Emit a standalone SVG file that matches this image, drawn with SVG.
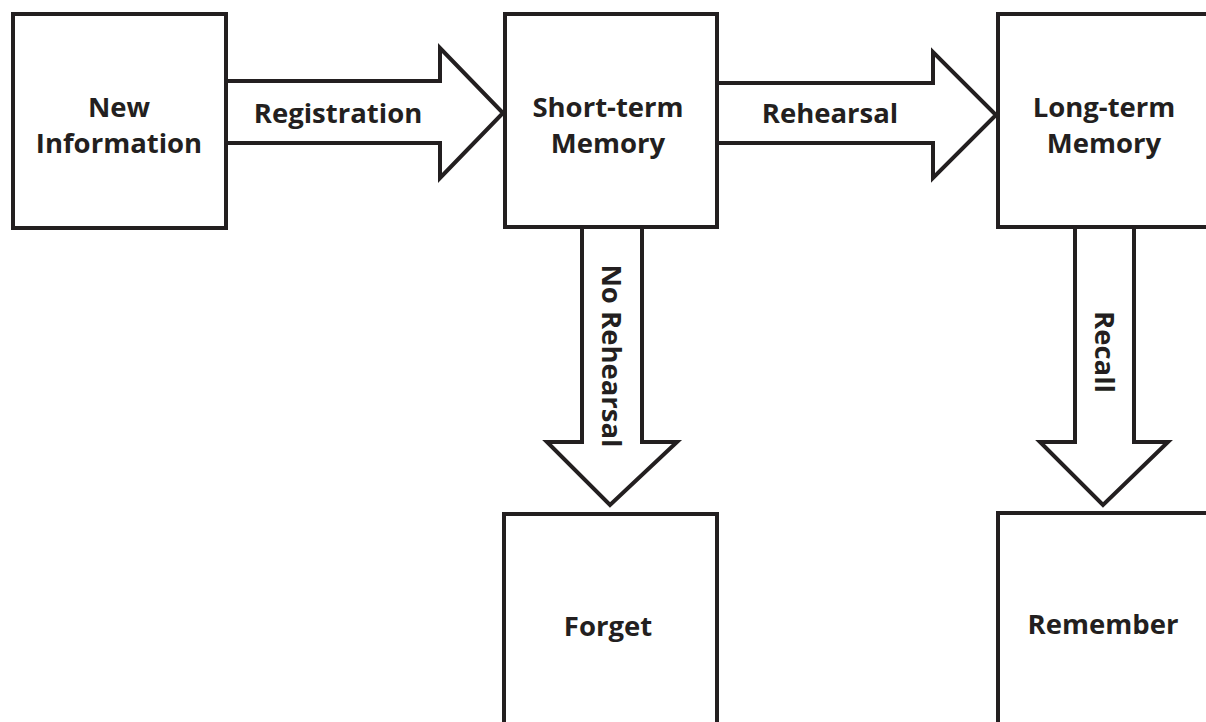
<svg xmlns="http://www.w3.org/2000/svg" width="1206" height="722" viewBox="0 0 1206 722">
<style>
.box{fill:#fff;stroke:#231f20;stroke-width:4}
.arr{fill:#fff;stroke:#231f20;stroke-width:4;stroke-linejoin:miter}
.lbl{font-family:"Open Sans","Liberation Sans",sans-serif;font-weight:bold;font-size:27.5px;fill:#231f20;text-anchor:middle}
</style>
<rect width="1206" height="722" fill="#fff"/>
<g id="connectors">
<g id="registration"><polyline class="arr" points="226,81 440,81 440,48 503,113 440,178 440,143 226,143"/><text class="lbl" x="338" y="123">Registration</text></g>
<g id="rehearsal"><polyline class="arr" points="717,83 933,83 933,52 996,115 933,178 933,143 717,143"/><text class="lbl" x="830" y="123">Rehearsal</text></g>
<g id="no-rehearsal"><polyline class="arr" points="582,227 582,442 547,442 610,505 677,442 642,442 642,227"/><text class="lbl" transform="translate(602,356) rotate(90)">No Rehearsal</text></g>
<g id="recall"><polyline class="arr" points="1075,227 1075,442 1040,442 1103,505 1168,442 1134,442 1134,227"/><text class="lbl" transform="translate(1095,352) rotate(90)">Recall</text></g>
</g>
<g id="new-information"><rect class="box" x="13" y="14" width="213" height="214"/><text class="lbl" x="119" y="117">New</text><text class="lbl" x="119" y="153">Information</text></g>
<g id="short-term"><rect class="box" x="505" y="14" width="212" height="213"/><text class="lbl" x="608" y="117">Short-term</text><text class="lbl" x="608" y="153">Memory</text></g>
<g id="long-term"><rect class="box" x="998" y="14" width="212" height="213"/><text class="lbl" x="1104" y="117">Long-term</text><text class="lbl" x="1104" y="153">Memory</text></g>
<g id="forget"><rect class="box" x="504" y="514" width="213" height="213"/><text class="lbl" x="608" y="636">Forget</text></g>
<g id="remember"><rect class="box" x="998" y="513" width="212" height="213"/><text class="lbl" x="1103" y="634">Remember</text></g>
</svg>
